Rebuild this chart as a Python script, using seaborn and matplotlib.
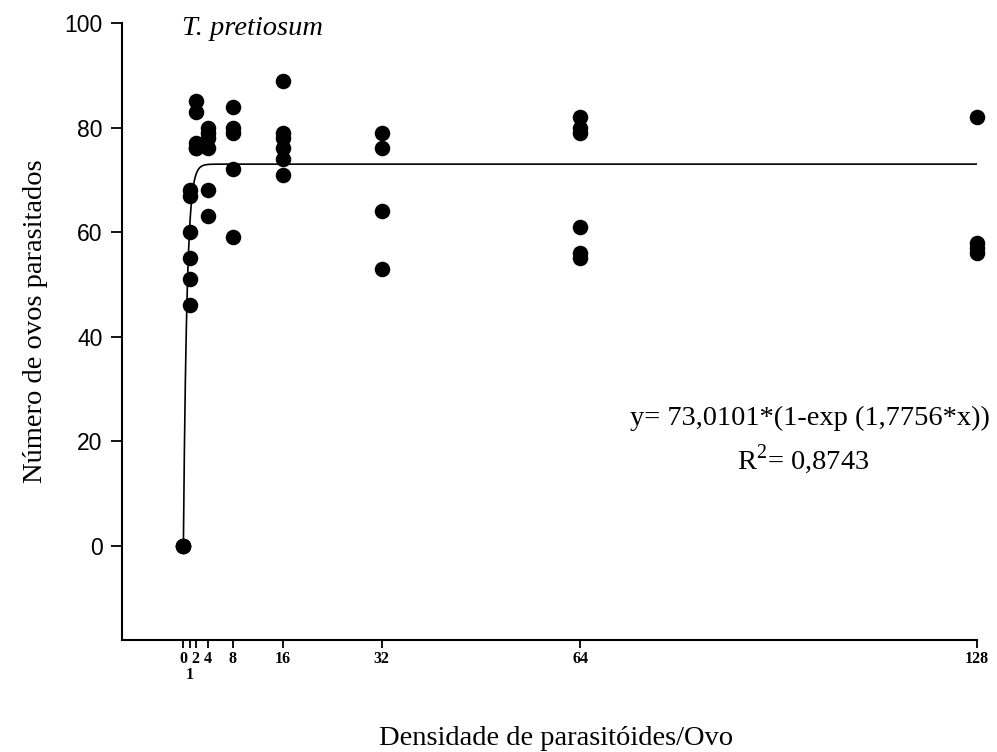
import numpy as np
import pandas as pd
import matplotlib
matplotlib.use("Agg")
import matplotlib.pyplot as plt
import seaborn as sns

# ---- data ----
dens_0 = [0, 0, 0]
dens_1 = [46, 51, 55, 60, 67, 68]
dens_2 = [85, 83, 77, 76, 76]
dens_4 = [80, 79, 78, 76, 68, 63]
dens_8 = [84, 80, 79, 72, 59]
dens_16 = [89, 79, 78, 76, 74, 71]
dens_32 = [79, 76, 64, 53]
dens_64 = [82, 80, 79, 61, 56, 55]
dens_128 = [82, 58, 57, 56]
densities = [0, 1, 2, 4, 8, 16, 32, 64, 128]
groups = [dens_0, dens_1, dens_2, dens_4, dens_8, dens_16, dens_32, dens_64, dens_128]
tick_labels = ["0", "\n1", "2", "4", "8", "16", "32", "64", "128"]
y_ticks = [0, 20, 40, 60, 80, 100]
fit_a = 73.0101
fit_b = 1.7756
eq_text = "y= 73,0101*(1-exp (1,7756*x))"
r2_text = r"R$^{\mathregular{2}}$= 0,8743"
title_text = "T. pretiosum"
xlabel = "Densidade de parasitóides/Ovo"
ylabel = "Número de ovos parasitados"

df = pd.DataFrame({
    "x": [d for d, g in zip(densities, groups) for _ in g],
    "y": [v for g in groups for v in g],
})
xfit = np.linspace(0, 128, 4000)
fit = pd.DataFrame({"x": xfit, "y": fit_a * (1 - np.exp(-fit_b * xfit))})

sns.set_style("ticks")
plt.rcParams["font.family"] = ["Liberation Serif", "DejaVu Serif"]
plt.rcParams["mathtext.fontset"] = "custom"
plt.rcParams["mathtext.rm"] = "Liberation Serif"
plt.rcParams["text.color"] = "black"
plt.rcParams["axes.labelcolor"] = "black"
plt.rcParams["xtick.color"] = "black"
plt.rcParams["ytick.color"] = "black"

W, H = 997, 752
BIG = 20.5
fig = plt.figure(figsize=(W / 100, H / 100), dpi=100)
ax = fig.add_axes([122 / W, 1 - 640 / H, (977 - 122) / W, (640 - 23) / H])

sns.lineplot(data=fit, x="x", y="y", ax=ax, color="black", linewidth=1.2)
sns.scatterplot(data=df, x="x", y="y", ax=ax, color="black", s=125,
                edgecolor="black", linewidth=0, zorder=3, clip_on=False)

ax.set_xlim(-9.9, 128)
ax.set_ylim(-18, 100)
ax.set_xticks(densities)
ax.set_xticklabels(tick_labels, fontweight="bold", fontsize=11.5,
                   family="Liberation Serif", linespacing=0.98)
ax.set_yticks(y_ticks)
ax.set_yticklabels([str(v) for v in y_ticks], family="Liberation Sans",
                   fontsize=16.5)
ax.tick_params(axis="both", direction="out", width=1.3, colors="black")
ax.tick_params(axis="x", length=6, pad=2)
ax.tick_params(axis="y", length=8, pad=6)
for s in ["top", "right"]:
    ax.spines[s].set_visible(False)
for s in ["left", "bottom"]:
    ax.spines[s].set_linewidth(1.5)
    ax.spines[s].set_color("black")

ax.set_xlabel(xlabel, fontsize=BIG, va="baseline", color="black")
ax.xaxis.set_label_coords((556.5 - 122) / 855, (640 - 745) / 617)
ax.set_ylabel(ylabel, fontsize=BIG, color="black")
ax.yaxis.set_label_coords((48 - 122) / 855, (640 - 321) / 617)

fig.text(182 / W, 1 - 35 / H, title_text, fontsize=BIG, style="italic",
         ha="left", va="baseline", color="black")
fig.text(630 / W, 1 - 425 / H, eq_text, fontsize=BIG, ha="left", va="baseline",
         color="black")
fig.text(803 / W, 1 - 469 / H, r2_text, fontsize=BIG, ha="center", va="baseline",
         color="black")

fig.savefig("out.png", dpi=100)
